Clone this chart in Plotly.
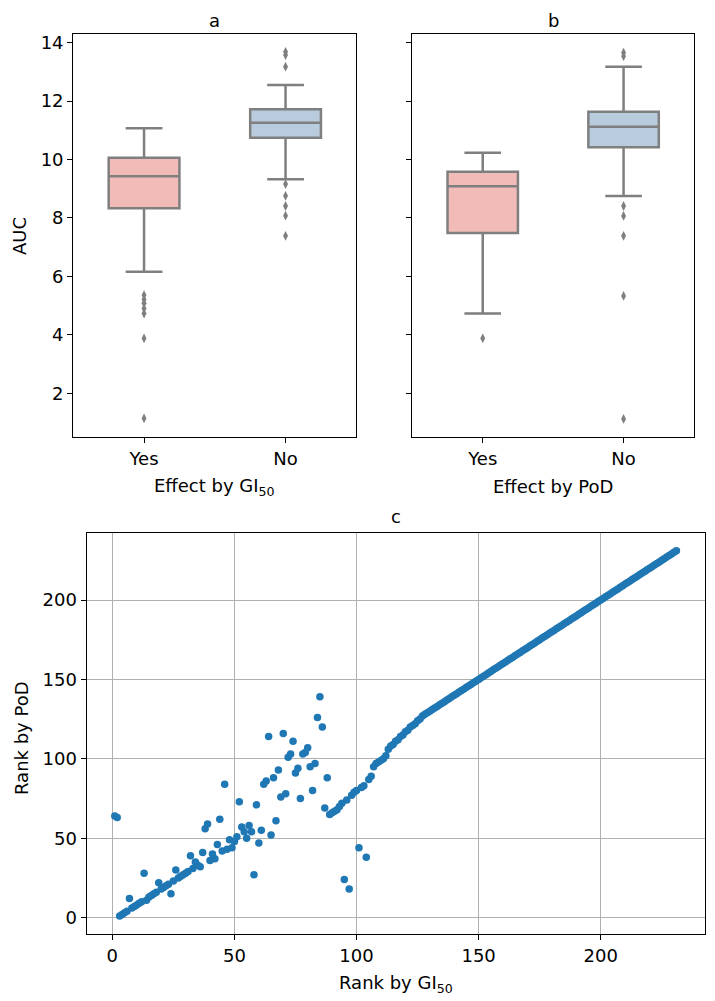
import plotly.graph_objects as go

# The page body adds an 8px margin, so the figure is 8px smaller each way
OFF = 8
W, H = 715 - OFF, 1001 - OFF
FONT = "DejaVu Sans"
FS = 18

categories = ["Yes", "No"]

# Panel a: AUC by effect (GI50) — box statistics
a_q1 = [8.33, 10.75]
a_median = [9.43, 11.26]
a_q3 = [10.06, 11.72]
a_lowerfence = [6.16, 9.33]
a_upperfence = [11.07, 12.55]
a_outliers_yes = [5.36, 5.21, 5.08, 4.90, 4.73, 3.88, 1.14]
a_outliers_no = [13.69, 13.58, 13.18, 9.16, 8.76, 8.41, 8.08, 7.39]

# Panel b: AUC by effect (PoD)
b_q1 = [7.49, 10.42]
b_median = [9.09, 11.12]
b_q3 = [9.58, 11.64]
b_lowerfence = [4.73, 8.75]
b_upperfence = [10.23, 13.18]
b_outliers_yes = [3.88]
b_outliers_no = [13.66, 13.54, 8.41, 8.07, 7.39, 5.33, 1.12]

y_ticks = [2, 4, 6, 8, 10, 12, 14]

# Panel c: rank by GI50 vs rank by PoD
rank_gi50 = [
    1, 2, 3, 4, 5, 6, 7, 8, 9, 10, 11, 12, 13, 14, 15, 16, 17, 18, 19, 20,
    21, 22, 23, 24, 25, 26, 27, 28, 29, 30, 31, 32, 33, 34, 35, 36, 37, 38, 39, 40,
    41, 42, 43, 44, 45, 46, 47, 48, 49, 50, 51, 52, 53, 54, 55, 56, 57, 58, 59, 60,
    61, 62, 63, 64, 65, 66, 67, 68, 69, 70, 71, 72, 73, 74, 75, 76, 77, 78, 79, 80,
    81, 82, 83, 84, 85, 86, 87, 88, 89, 90, 91, 92, 93, 94, 95, 96, 97, 98, 99, 100,
    101, 102, 103, 104, 105, 106, 107, 108, 109, 110, 111, 112, 113, 114, 115, 116, 117, 118, 119, 120,
    121, 122, 123, 124, 125, 126, 127, 128, 129, 130, 131, 132, 133, 134, 135, 136, 137, 138, 139, 140,
    141, 142, 143, 144, 145, 146, 147, 148, 149, 150, 151, 152, 153, 154, 155, 156, 157, 158, 159, 160,
    161, 162, 163, 164, 165, 166, 167, 168, 169, 170, 171, 172, 173, 174, 175, 176, 177, 178, 179, 180,
    181, 182, 183, 184, 185, 186, 187, 188, 189, 190, 191, 192, 193, 194, 195, 196, 197, 198, 199, 200,
    201, 202, 203, 204, 205, 206, 207, 208, 209, 210, 211, 212, 213, 214, 215, 216, 217, 218, 219, 220,
    221, 222, 223, 224, 225, 226, 227, 228, 229, 230, 231,
]
rank_pod = [
    64, 63, 1, 2, 3, 4, 12, 6, 7, 8, 9, 10, 28, 11, 13, 14, 15, 16, 22, 18,
    19, 20, 21, 15, 23, 30, 25, 26, 27, 28, 29, 39, 31, 35, 33, 32, 41, 56, 59, 36,
    40, 37, 46, 62, 42, 84, 43, 49, 44, 48, 51, 73, 57, 54, 50, 58, 54, 27, 71, 47,
    55, 84, 86, 114, 52, 88, 61, 93, 76, 116, 78, 101, 103, 111, 91, 94, 75, 103, 104, 107,
    95, 80, 97, 126, 139, 120, 69, 88, 65, 66, 67, 68, 70, 72, 24, 74, 18, 77, 79, 80,
    44, 82, 83, 38, 87, 89, 95, 97, 98, 99, 100, 102, 106, 108, 109, 111, 112, 114, 115, 117,
    118, 120, 121, 122, 124, 125, 127, 128, 129, 130, 131, 132, 133, 134, 135, 136, 137, 138, 139, 140,
    141, 142, 143, 144, 145, 146, 147, 148, 149, 150, 151, 152, 153, 154, 155, 156, 157, 158, 159, 160,
    161, 162, 163, 164, 165, 166, 167, 168, 169, 170, 171, 172, 173, 174, 175, 176, 177, 178, 179, 180,
    181, 182, 183, 184, 185, 186, 187, 188, 189, 190, 191, 192, 193, 194, 195, 196, 197, 198, 199, 200,
    201, 202, 203, 204, 205, 206, 207, 208, 209, 210, 211, 212, 213, 214, 215, 216, 217, 218, 219, 220,
    221, 222, 223, 224, 225, 226, 227, 228, 229, 230, 231,
]
rank_ticks = [0, 50, 100, 150, 200]

box_fill = ["#f1bcb8", "#b9ccdd"]
box_line = "#7f7f7f"
point_color = "#1f77b4"


def px_x(p):
    return (p - OFF) / W


def px_y(p):
    return 1 - (p - OFF) / H


fig = go.Figure()


def add_boxes(xa, ya, q1, med, q3, lo, hi, out_yes, out_no):
    for i, cat in enumerate(categories):
        fig.add_trace(go.Box(
            x=[cat], q1=[q1[i]], median=[med[i]], q3=[q3[i]],
            lowerfence=[lo[i]], upperfence=[hi[i]],
            fillcolor=box_fill[i], line=dict(color=box_line, width=2.5),
            width=0.5, whiskerwidth=0.52, boxpoints=False,
            xaxis=xa, yaxis=ya, showlegend=False, hoverinfo="skip",
        ))
    for cat, vals in ((categories[0], out_yes), (categories[1], out_no)):
        fig.add_trace(go.Scatter(
            x=[cat] * len(vals), y=vals, mode="markers",
            marker=dict(symbol="diamond-tall", size=7, color=box_line,
                        line=dict(width=0)),
            xaxis=xa, yaxis=ya, showlegend=False, hoverinfo="skip",
        ))


add_boxes("x", "y", a_q1, a_median, a_q3, a_lowerfence, a_upperfence,
          a_outliers_yes, a_outliers_no)
add_boxes("x2", "y2", b_q1, b_median, b_q3, b_lowerfence, b_upperfence,
          b_outliers_yes, b_outliers_no)

fig.add_trace(go.Scatter(
    x=rank_gi50, y=rank_pod, mode="markers",
    marker=dict(size=7.5, color=point_color, line=dict(width=0)),
    xaxis="x3", yaxis="y3", showlegend=False,
))

axis_common = dict(
    showline=True, linecolor="black", linewidth=1.3, mirror=True,
    ticks="outside", ticklen=5, tickwidth=1.3, tickcolor="black",
    tickfont=dict(family=FONT, size=FS, color="black"),
    zeroline=False, automargin=False,
)

cat_axis = dict(axis_common, type="category", categoryorder="array",
                categoryarray=categories, range=[-0.5, 1.5], showgrid=False)
auc_axis = dict(axis_common, range=[0.49, 14.29], tickvals=y_ticks, showgrid=False)
rank_axis = dict(axis_common, range=[-10.5, 242.5], tickvals=rank_ticks,
                 showgrid=True, gridcolor="#b0b0b0", gridwidth=1.3)

fig.update_layout(
    template="none",
    width=W, height=H,
    margin=dict(l=0, r=0, t=0, b=0, pad=0),
    paper_bgcolor="white", plot_bgcolor="white",
    font=dict(family=FONT, size=FS, color="black"),
    boxmode="overlay",
    xaxis=dict(cat_axis, domain=[px_x(73.3), px_x(356.3)], anchor="y"),
    yaxis=dict(auc_axis, domain=[px_y(437.3), px_y(34.3)], anchor="x"),
    xaxis2=dict(cat_axis, domain=[px_x(412.3), px_x(694.0)], anchor="y2"),
    yaxis2=dict(auc_axis, domain=[px_y(437.3), px_y(34.3)], anchor="x2",
                showticklabels=False),
    xaxis3=dict(rank_axis, domain=[px_x(86.7), px_x(704.5)], anchor="y3"),
    yaxis3=dict(rank_axis, domain=[px_y(934.3), px_y(532.5)], anchor="x3"),
)

# (text, x px, y px, angle, yanchor)
annotations = [
    ("a", 214.8, 8, 0, "top"),
    ("b", 553.2, 8, 0, "top"),
    ("c", 395.6, 516, 0, "middle"),
    ("Effect by GI<sub>50</sub>", 214.8, 487, 0, "middle"),
    ("Effect by PoD", 553.2, 487, 0, "middle"),
    ("Rank by GI<sub>50</sub>", 395.6, 984, 0, "middle"),
    ("AUC", 20, 236, -90, "middle"),
    ("Rank by PoD", 21, 738, -90, "middle"),
]
for text, x, y, ang, ya in annotations:
    fig.add_annotation(
        text=text, x=px_x(x), y=px_y(y), xref="paper", yref="paper",
        xanchor="center", yanchor=ya, showarrow=False, textangle=ang,
        font=dict(family=FONT, size=FS, color="black"),
    )

fig.write_html("out.html")
